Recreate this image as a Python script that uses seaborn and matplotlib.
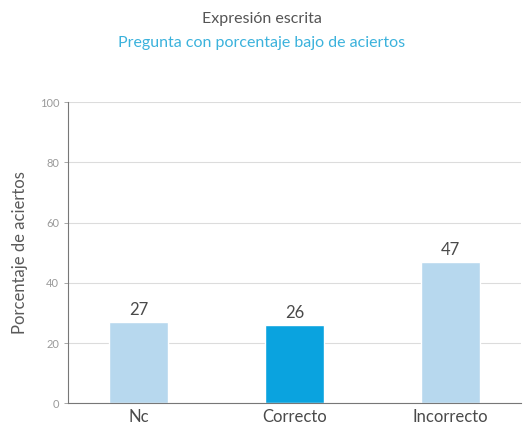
import matplotlib
matplotlib.use("Agg")
import matplotlib.pyplot as plt
import seaborn as sns
import pandas as pd

# ===== Datos =====
categorias = ["Nc", "Correcto", "Incorrecto"]
porcentajes = [27, 26, 47]
colores = ["#b7d8ee", "#0aa3df", "#b7d8ee"]
y_ticks = [0, 20, 40, 60, 80, 100]

df = pd.DataFrame({"Respuesta": categorias, "Porcentaje": porcentajes})

sns.set_style("white")
plt.rcParams["font.family"] = ["Lato", "DejaVu Sans"]

fig = plt.figure(figsize=(5.24, 4.29), dpi=100)
ax = fig.add_axes([0.13, 0.06, 0.864, 0.702])

sns.barplot(data=df, x="Respuesta", y="Porcentaje", hue="Respuesta",
            palette=colores, width=0.38, legend=False, ax=ax, saturation=1)

for i, v in enumerate(porcentajes):
    ax.text(i, v + 1.2, str(v), ha="center", va="bottom", fontsize=12, color="#4a4a4a")

ax.set_ylim(0, 100)
ax.set_xlim(-0.45, 2.45)
ax.set_yticks(y_ticks)
ax.yaxis.grid(True, color="#dcdcdc", linewidth=0.8)
ax.set_axisbelow(True)
ax.set_xlabel("")
ax.set_ylabel("Porcentaje de aciertos", fontsize=12, color="#5a5a5a", labelpad=8)
ax.tick_params(axis="y", labelsize=8, colors="#9a9a9a", length=3, width=0.6, left=True)
ax.tick_params(axis="x", labelsize=12, colors="#4a4a4a", length=0, pad=4)
for lab in ax.get_xticklabels():
    lab.set_color("#4a4a4a")
sns.despine(ax=ax)
ax.spines["left"].set_color("#777777")
ax.spines["bottom"].set_color("#777777")
ax.spines["left"].set_linewidth(0.8)
ax.spines["bottom"].set_linewidth(0.8)

fig.text(0.5, 0.955, "Expresión escrita", ha="center", va="center", fontsize=11.5, color="#555555")
fig.text(0.5, 0.9, "Pregunta con porcentaje bajo de aciertos", ha="center", va="center",
         fontsize=11.5, color="#3bb2dc")

plt.savefig("out.png", dpi=100)
plt.close()
